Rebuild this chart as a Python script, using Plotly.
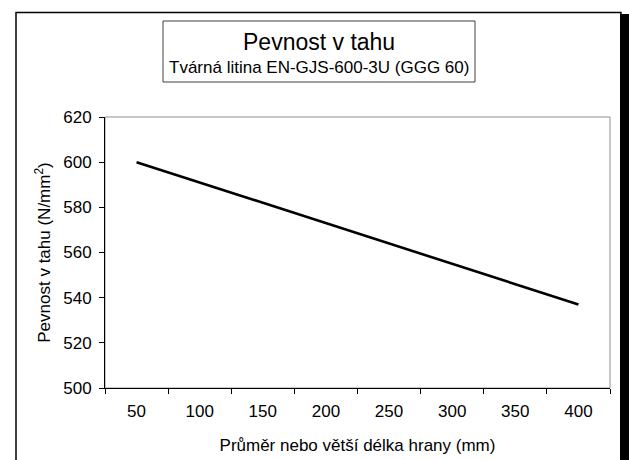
import plotly.graph_objects as go

# Data
diameters = ["50", "100", "150", "200", "250", "300", "350", "400"]
strength = [600, 591, 582, 573, 564, 555, 546, 537]
y_ticks = [500, 520, 540, 560, 580, 600, 620]

title_main = "Pevnost v tahu"
title_sub = "Tvárná litina EN-GJS-600-3U (GGG 60)"
x_title = "Průměr nebo větší délka hrany (mm)"
y_title = "Pevnost v tahu (N/mm<sup>2</sup>)"

W, H = 629, 460
L, R, T, B = 105, 610, 117, 388


def px(x):
    return (x - L) / (R - L)


def py(y):
    return (B - y) / (B - T)


FONT = "Liberation Sans, Arial, sans-serif"

fig = go.Figure()
fig.add_trace(go.Scatter(
    x=diameters, y=strength, mode="lines",
    line=dict(color="black", width=2.6),
    hoverinfo="skip", showlegend=False,
))

fig.update_layout(
    width=W, height=H,
    margin=dict(l=L, r=W - R, t=T, b=H - B, pad=0),
    paper_bgcolor="white", plot_bgcolor="white",
    font=dict(family=FONT, size=17, color="black"),
    xaxis=dict(
        type="category", range=[-0.5, 7.5], automargin=False,
        tickson="boundaries", ticks="outside", ticklen=5, tickwidth=1,
        tickcolor="black",
        showline=True, linecolor="black", linewidth=1,
        showgrid=False, zeroline=False,
        tickfont=dict(size=17),
        ticklabelstandoff=8,
        title=dict(text=x_title, font=dict(size=17), standoff=18),
    ),
    yaxis=dict(
        range=[500, 620], tickvals=y_ticks, automargin=False,
        ticks="outside", ticklen=5, tickwidth=1, tickcolor="black",
        showline=True, linecolor="black", linewidth=1,
        showgrid=False, zeroline=False,
        tickfont=dict(size=17),
        ticklabelstandoff=4,
        title=dict(text=y_title, font=dict(size=17), standoff=8),
    ),
    shapes=[
        # plot area border (gray)
        dict(type="rect", xref="paper", yref="paper", x0=0, y0=0, x1=1, y1=1,
             line=dict(color="#909090", width=1), layer="below"),
        # outer chart border
        dict(type="rect", xref="paper", yref="paper",
             x0=px(16), y0=py(475), x1=px(621), y1=py(12.5),
             line=dict(color="black", width=1.5)),
        # right thick edge
        dict(type="rect", xref="paper", yref="paper",
             x0=px(620), y0=py(475), x1=px(635), y1=py(14),
             line=dict(width=0), fillcolor="black"),
        # title box
        dict(type="rect", xref="paper", yref="paper",
             x0=px(163), y0=py(82), x1=px(475), y1=py(21),
             line=dict(color="#404040", width=1), fillcolor="white"),
    ],
    annotations=[
        dict(text=title_main, xref="paper", yref="paper",
             x=px(319), y=py(41.5), xanchor="center", yanchor="middle",
             showarrow=False, font=dict(size=23)),
        dict(text=title_sub, xref="paper", yref="paper",
             x=px(319), y=py(67), xanchor="center", yanchor="middle",
             showarrow=False, font=dict(size=17)),
    ],
)

fig.write_html("out.html")
